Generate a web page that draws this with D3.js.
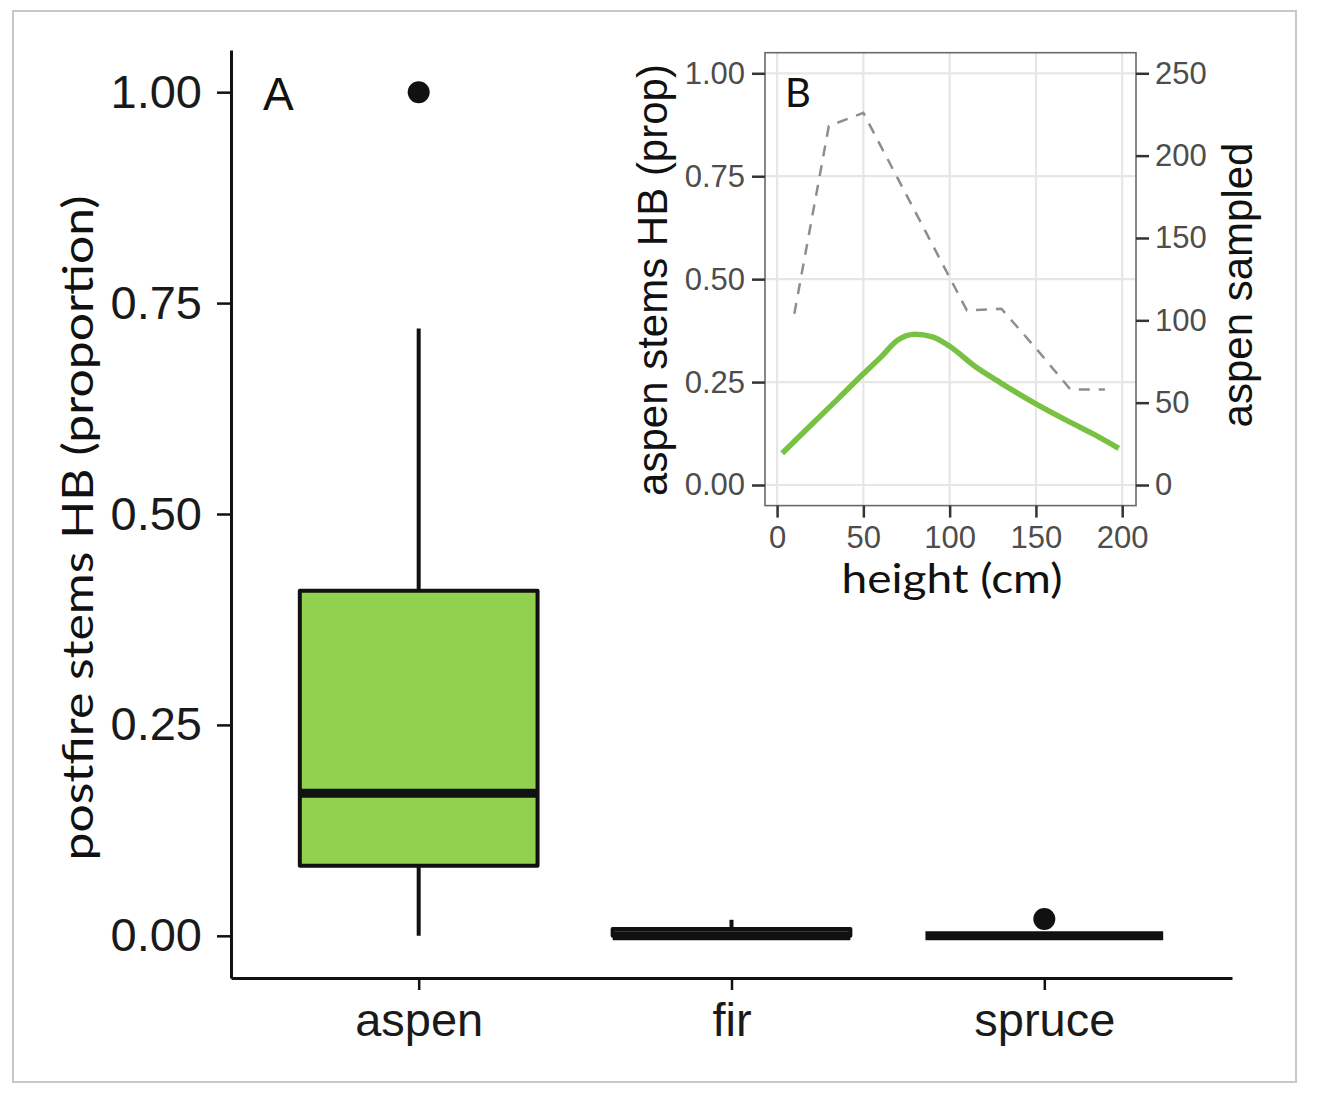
<!DOCTYPE html>
<html><head><meta charset="utf-8">
<script src="https://cdn.jsdelivr.net/npm/d3@7"></script>
<style>body{margin:0;background:#fff} svg{display:block}</style>
</head><body><svg id="c" width="1320" height="1095"></svg>
<script>
// ---- Panel A data (boxplot) ----
const categories = ["aspen", "fir", "spruce"];
const boxMin    = [0.000, 0.000, 0.000];
const boxQ1     = [0.083, 0.000, 0.000];
const boxMedian = [0.169, 0.000, 0.000];
const boxQ3     = [0.409, 0.008, 0.000];
const boxMax    = [0.720, 0.019, 0.000];
const outlierCat = ["aspen", "spruce"];
const outlierVal = [1.00, 0.02];
const yTicksA = [0, 0.25, 0.5, 0.75, 1.0];

// ---- Panel B data ----
const heightBins = [10, 30, 50, 70, 90, 110, 130, 150, 170, 190];
const aspenSampled = [104, 218, 226, 186, 146, 106, 107, 83, 58, 58];
const smoothHeight = [3, 20, 35, 50, 60, 70, 80, 90, 100, 115, 130, 150, 170, 185, 198];
const smoothProp = [0.077, 0.147, 0.208, 0.270, 0.310, 0.352, 0.366, 0.360, 0.337, 0.287, 0.247, 0.197, 0.152, 0.120, 0.089];
const xTicksB = [0, 50, 100, 150, 200];
const yTicksB = [0, 0.25, 0.5, 0.75, 1.0];
const yTicksBRight = [0, 50, 100, 150, 200, 250];

const svg = d3.select("#c");
const ARIAL = "'Liberation Sans', Arial, sans-serif";
const CAL = "Lato, 'Open Sans', sans-serif";

// outer frame
svg.append("rect").attr("x", 13).attr("y", 11).attr("width", 1283).attr("height", 1071)
  .attr("fill", "none").attr("stroke", "#c8c8c8").attr("stroke-width", 2);

// ---------- Panel A ----------
const x = d3.scalePoint().domain(categories).range([231, 1232]).padding(0.6);
const y = d3.scaleLinear().domain([-0.05, 1.05]).range([978, 50]);
const boxW = x.step() * 0.76;

const gA = svg.append("g");
const rows = categories.map((c, i) => ({c, min: boxMin[i], q1: boxQ1[i], med: boxMedian[i], q3: boxQ3[i], max: boxMax[i]}));

// whiskers
gA.selectAll(".wh").data(rows).join("line")
  .attr("x1", d => x(d.c)).attr("x2", d => x(d.c))
  .attr("y1", d => y(d.max)).attr("y2", d => y(d.min))
  .attr("stroke", "#111").attr("stroke-width", 4);
// boxes
gA.selectAll(".bx").data(rows).join("rect")
  .attr("x", d => x(d.c) - boxW / 2).attr("width", boxW)
  .attr("y", d => y(d.q3)).attr("height", d => y(d.q1) - y(d.q3))
  .attr("fill", "#92d050").attr("stroke", "#111").attr("stroke-width", 4)
  .attr("stroke-linejoin", "round");
// medians
gA.selectAll(".md").data(rows).join("line")
  .attr("x1", d => x(d.c) - boxW / 2).attr("x2", d => x(d.c) + boxW / 2)
  .attr("y1", d => y(d.med)).attr("y2", d => y(d.med))
  .attr("stroke", "#111").attr("stroke-width", 9).attr("stroke-linecap", "butt");
// outliers
gA.selectAll(".ol").data(outlierCat.map((c, i) => ({c, v: outlierVal[i]}))).join("circle")
  .attr("cx", d => x(d.c)).attr("cy", d => y(d.v)).attr("r", 11).attr("fill", "#111");

// axes
const yAxA = gA.append("g").attr("transform", "translate(231,0)")
  .call(d3.axisLeft(y).tickValues(yTicksA).tickFormat(d3.format(".2f")).tickSize(14).tickSizeOuter(0).tickPadding(15));
const xAxA = gA.append("g").attr("transform", "translate(0,978)")
  .call(d3.axisBottom(x).tickSize(12).tickSizeOuter(0).tickPadding(13));
[yAxA, xAxA].forEach(a => {
  a.select(".domain").attr("stroke", "#111").attr("stroke-width", 3);
  a.selectAll(".tick line").attr("stroke", "#111").attr("stroke-width", 2.5);
  a.selectAll(".tick text").attr("fill", "#1a1a1a").style("font-family", ARIAL).style("font-size", "47px");
});

gA.append("text").attr("transform", "translate(78,528) rotate(-90)").attr("dy", "0.35em")
  .attr("text-anchor", "middle").style("font-family", CAL).style("font-size", "42px").attr("fill", "#111")
  .attr("textLength", 665).attr("lengthAdjust", "spacingAndGlyphs")
  .text("postfire stems HB (proportion)");
gA.append("text").attr("x", 263).attr("y", 110).style("font-family", ARIAL).style("font-size", "46px")
  .attr("fill", "#111").text("A");

// ---------- Panel B (inset) ----------
const xB = d3.scaleLinear().domain([-7, 208]).range([765, 1136]);
const yB = d3.scaleLinear().domain([-0.05, 1.05]).range([505.6, 52.7]);
const yBR = d3.scaleLinear().domain([-12.5, 262.5]).range([505.6, 52.7]);
const gB = svg.append("g");

gB.append("rect").attr("x", 765).attr("y", 52.7).attr("width", 371).attr("height", 505.6 - 52.7).attr("fill", "#fff");
gB.selectAll(".gv").data(xTicksB).join("line")
  .attr("x1", d => xB(d)).attr("x2", d => xB(d)).attr("y1", 52.7).attr("y2", 505.6)
  .attr("stroke", "#e6e6e6").attr("stroke-width", 2.2);
gB.selectAll(".gh").data(yTicksB).join("line")
  .attr("y1", d => yB(d)).attr("y2", d => yB(d)).attr("x1", 765).attr("x2", 1136)
  .attr("stroke", "#e6e6e6").attr("stroke-width", 2.2);

// dashed sampled line
gB.append("path").datum(heightBins.map((h, i) => [h, aspenSampled[i]]))
  .attr("d", d3.line().x(d => xB(d[0])).y(d => yBR(d[1])))
  .attr("fill", "none").attr("stroke", "#8e8e8e").attr("stroke-width", 2.5).attr("stroke-dasharray", "11,9");
// smooth proportion line
gB.append("path").datum(smoothHeight.map((h, i) => [h, smoothProp[i]]))
  .attr("d", d3.line().curve(d3.curveMonotoneX).x(d => xB(d[0])).y(d => yB(d[1])))
  .attr("fill", "none").attr("stroke", "#79c142").attr("stroke-width", 5.5).attr("stroke-linecap", "butt");

gB.append("rect").attr("x", 765).attr("y", 52.7).attr("width", 371).attr("height", 505.6 - 52.7)
  .attr("fill", "none").attr("stroke", "#6a6a6a").attr("stroke-width", 1.6);

const yAxB = gB.append("g").attr("transform", "translate(765,0)")
  .call(d3.axisLeft(yB).tickValues(yTicksB).tickFormat(d3.format(".2f")).tickSize(13).tickSizeOuter(0).tickPadding(7));
const yAxBR = gB.append("g").attr("transform", "translate(1136,0)")
  .call(d3.axisRight(yBR).tickValues(yTicksBRight).tickSize(13).tickSizeOuter(0).tickPadding(6));
const xAxB = gB.append("g").attr("transform", "translate(0,505.6)")
  .call(d3.axisBottom(xB).tickValues(xTicksB).tickSize(12).tickSizeOuter(0).tickPadding(8));
[yAxB, yAxBR, xAxB].forEach(a => {
  a.select(".domain").remove();
  a.selectAll(".tick line").attr("stroke", "#333").attr("stroke-width", 2.5);
  a.selectAll(".tick text").attr("fill", "#4d4d4d").style("font-family", ARIAL).style("font-size", "31px");
});

gB.append("text").attr("transform", "translate(652,280) rotate(-90)").attr("dy", "0.35em")
  .attr("text-anchor", "middle").style("font-family", ARIAL).style("font-size", "42px").attr("fill", "#111")
  .text("aspen stems HB (prop)");
gB.append("text").attr("transform", "translate(1237,285) rotate(-90)").attr("dy", "0.35em")
  .attr("text-anchor", "middle").style("font-family", ARIAL).style("font-size", "42px").attr("fill", "#111")
  .text("aspen sampled");
gB.append("text").attr("x", 952).attr("y", 593).attr("text-anchor", "middle")
  .style("font-family", CAL).style("font-size", "40px").attr("fill", "#111")
  .attr("textLength", 221).attr("lengthAdjust", "spacingAndGlyphs").text("height (cm)");
gB.append("text").attr("x", 785).attr("y", 107).style("font-family", CAL).style("font-size", "40px")
  .attr("fill", "#111").text("B");
</script></body></html>
